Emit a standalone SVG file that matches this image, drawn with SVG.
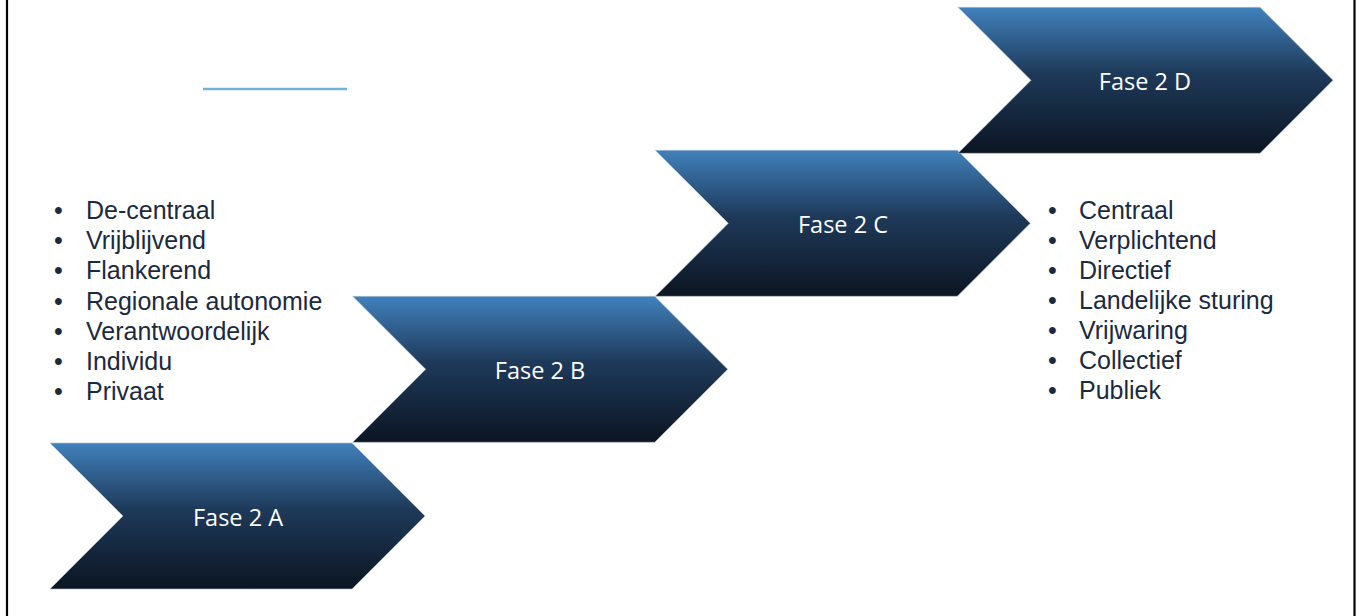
<svg xmlns="http://www.w3.org/2000/svg" width="1361" height="616" viewBox="0 0 1361 616">
<defs>
<linearGradient id="chev" x1="0" y1="0" x2="0" y2="1">
<stop offset="0" stop-color="#4181bc"/>
<stop offset="0.45" stop-color="#1e3a5a"/>
<stop offset="1" stop-color="#0c1522"/>
</linearGradient>
<path id="chevShape" d="M0,0 L302,0 L375,73 L302,146 L0,146 L73,73 Z"/>
</defs>
<style>
.chev{fill:url(#chev);stroke:#b4c0ce;stroke-width:1;stroke-opacity:0.6}
.lbl{font-family:"Open Sans","Noto Sans",sans-serif;font-size:23.5px;fill:#ffffff;text-anchor:middle}
.item{font-family:"Liberation Sans",Arial,sans-serif;font-size:25px;fill:#1b2a3e}
.frame{stroke:#000000;stroke-width:2.2}
</style>
<rect width="1361" height="616" fill="#ffffff"/>
<line class="frame" x1="7" y1="0" x2="7" y2="616"/>
<line class="frame" x1="1354.5" y1="0" x2="1354.5" y2="616"/>
<line x1="203" y1="89" x2="347" y2="89" stroke="#72b3d1" stroke-width="2.4"/>
<g id="connectors"></g>
<g id="faseA">
<use href="#chevShape" class="chev" transform="translate(50,443)"/>
<text class="lbl" x="238" y="526">Fase 2 A</text>
</g>
<g id="faseB">
<use href="#chevShape" class="chev" transform="translate(352.7,296.3)"/>
<text class="lbl" x="540" y="379">Fase 2 B</text>
</g>
<g id="faseC">
<use href="#chevShape" class="chev" transform="translate(655.3,150.3)"/>
<text class="lbl" x="843" y="233">Fase 2 C</text>
</g>
<g id="faseD">
<use href="#chevShape" class="chev" transform="translate(958,7.3)"/>
<text class="lbl" x="1145" y="90">Fase 2 D</text>
</g>
<g id="listLeft" class="item">
<text x="54" y="219">•</text><text x="86" y="219">De-centraal</text>
<text x="54" y="249.2">•</text><text x="86" y="249.2">Vrijblijvend</text>
<text x="54" y="279.4">•</text><text x="86" y="279.4">Flankerend</text>
<text x="54" y="309.6">•</text><text x="86" y="309.6">Regionale autonomie</text>
<text x="54" y="339.8">•</text><text x="86" y="339.8">Verantwoordelijk</text>
<text x="54" y="370">•</text><text x="86" y="370">Individu</text>
<text x="54" y="400.2">•</text><text x="86" y="400.2">Privaat</text>
</g>
<g id="listRight" class="item">
<text x="1048" y="219">•</text><text x="1079" y="219">Centraal</text>
<text x="1048" y="249">•</text><text x="1079" y="249">Verplichtend</text>
<text x="1048" y="279">•</text><text x="1079" y="279">Directief</text>
<text x="1048" y="309">•</text><text x="1079" y="309">Landelijke sturing</text>
<text x="1048" y="339">•</text><text x="1079" y="339">Vrijwaring</text>
<text x="1048" y="369">•</text><text x="1079" y="369">Collectief</text>
<text x="1048" y="399">•</text><text x="1079" y="399">Publiek</text>
</g>
</svg>
